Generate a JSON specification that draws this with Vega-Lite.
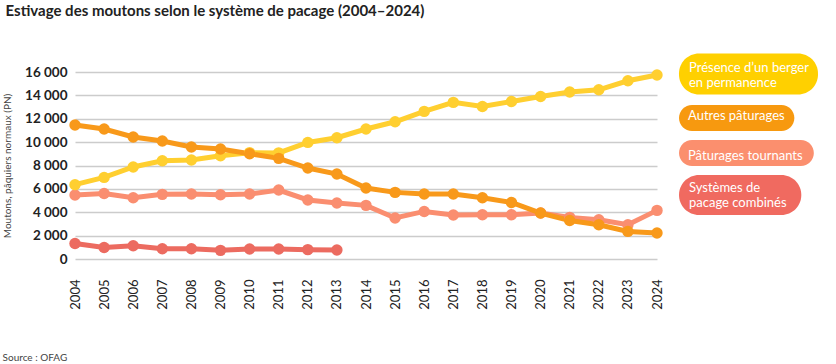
{
  "$schema": "https://vega.github.io/schema/vega-lite/v6.json",
  "padding": {"left": 2, "top": 3, "right": 10, "bottom": 3},
  "background": "white",
  "bounds": "flush",
  "spacing": 22,
  "title": {"text": "Estivage des moutons selon le système de pacage (2004–2024)", "anchor": "start", "font": "Lato", "fontSize": 15, "fontWeight": "bold", "color": "#222222", "offset": 35, "dx": 3},
  "datasets": {
    "main": [
      {"year": "2004", "series": "Systèmes de pacage combinés", "value": 1330},
      {"year": "2005", "series": "Systèmes de pacage combinés", "value": 990},
      {"year": "2006", "series": "Systèmes de pacage combinés", "value": 1140},
      {"year": "2007", "series": "Systèmes de pacage combinés", "value": 880},
      {"year": "2008", "series": "Systèmes de pacage combinés", "value": 880},
      {"year": "2009", "series": "Systèmes de pacage combinés", "value": 740},
      {"year": "2010", "series": "Systèmes de pacage combinés", "value": 850},
      {"year": "2011", "series": "Systèmes de pacage combinés", "value": 850},
      {"year": "2012", "series": "Systèmes de pacage combinés", "value": 800},
      {"year": "2013", "series": "Systèmes de pacage combinés", "value": 770},
      {"year": "2004", "series": "Pâturages tournants", "value": 5470},
      {"year": "2005", "series": "Pâturages tournants", "value": 5610},
      {"year": "2006", "series": "Pâturages tournants", "value": 5240},
      {"year": "2007", "series": "Pâturages tournants", "value": 5530},
      {"year": "2008", "series": "Pâturages tournants", "value": 5560},
      {"year": "2009", "series": "Pâturages tournants", "value": 5500},
      {"year": "2010", "series": "Pâturages tournants", "value": 5560},
      {"year": "2011", "series": "Pâturages tournants", "value": 5900},
      {"year": "2012", "series": "Pâturages tournants", "value": 5050},
      {"year": "2013", "series": "Pâturages tournants", "value": 4790},
      {"year": "2014", "series": "Pâturages tournants", "value": 4590},
      {"year": "2015", "series": "Pâturages tournants", "value": 3510},
      {"year": "2016", "series": "Pâturages tournants", "value": 4070},
      {"year": "2017", "series": "Pâturages tournants", "value": 3760},
      {"year": "2018", "series": "Pâturages tournants", "value": 3790},
      {"year": "2019", "series": "Pâturages tournants", "value": 3790},
      {"year": "2020", "series": "Pâturages tournants", "value": 3930},
      {"year": "2021", "series": "Pâturages tournants", "value": 3560},
      {"year": "2022", "series": "Pâturages tournants", "value": 3360},
      {"year": "2023", "series": "Pâturages tournants", "value": 2930},
      {"year": "2024", "series": "Pâturages tournants", "value": 4160},
      {"year": "2004", "series": "Présence d’un berger en permanence", "value": 6360},
      {"year": "2005", "series": "Présence d’un berger en permanence", "value": 6980},
      {"year": "2006", "series": "Présence d’un berger en permanence", "value": 7870},
      {"year": "2007", "series": "Présence d’un berger en permanence", "value": 8410},
      {"year": "2008", "series": "Présence d’un berger en permanence", "value": 8470},
      {"year": "2009", "series": "Présence d’un berger en permanence", "value": 8840},
      {"year": "2010", "series": "Présence d’un berger en permanence", "value": 9100},
      {"year": "2011", "series": "Présence d’un berger en permanence", "value": 9080},
      {"year": "2012", "series": "Présence d’un berger en permanence", "value": 9975},
      {"year": "2013", "series": "Présence d’un berger en permanence", "value": 10380},
      {"year": "2014", "series": "Présence d’un berger en permanence", "value": 11120},
      {"year": "2015", "series": "Présence d’un berger en permanence", "value": 11740},
      {"year": "2016", "series": "Présence d’un berger en permanence", "value": 12630},
      {"year": "2017", "series": "Présence d’un berger en permanence", "value": 13400},
      {"year": "2018", "series": "Présence d’un berger en permanence", "value": 13050},
      {"year": "2019", "series": "Présence d’un berger en permanence", "value": 13480},
      {"year": "2020", "series": "Présence d’un berger en permanence", "value": 13910},
      {"year": "2021", "series": "Présence d’un berger en permanence", "value": 14290},
      {"year": "2022", "series": "Présence d’un berger en permanence", "value": 14480},
      {"year": "2023", "series": "Présence d’un berger en permanence", "value": 15250},
      {"year": "2024", "series": "Présence d’un berger en permanence", "value": 15740},
      {"year": "2004", "series": "Autres pâturages", "value": 11460},
      {"year": "2005", "series": "Autres pâturages", "value": 11120},
      {"year": "2006", "series": "Autres pâturages", "value": 10440},
      {"year": "2007", "series": "Autres pâturages", "value": 10090},
      {"year": "2008", "series": "Autres pâturages", "value": 9580},
      {"year": "2009", "series": "Autres pâturages", "value": 9410},
      {"year": "2010", "series": "Autres pâturages", "value": 9010},
      {"year": "2011", "series": "Autres pâturages", "value": 8610},
      {"year": "2012", "series": "Autres pâturages", "value": 7780},
      {"year": "2013", "series": "Autres pâturages", "value": 7270},
      {"year": "2014", "series": "Autres pâturages", "value": 6070},
      {"year": "2015", "series": "Autres pâturages", "value": 5700},
      {"year": "2016", "series": "Autres pâturages", "value": 5560},
      {"year": "2017", "series": "Autres pâturages", "value": 5560},
      {"year": "2018", "series": "Autres pâturages", "value": 5240},
      {"year": "2019", "series": "Autres pâturages", "value": 4840},
      {"year": "2020", "series": "Autres pâturages", "value": 3930},
      {"year": "2021", "series": "Autres pâturages", "value": 3300},
      {"year": "2022", "series": "Autres pâturages", "value": 2930},
      {"year": "2023", "series": "Autres pâturages", "value": 2360},
      {"year": "2024", "series": "Autres pâturages", "value": 2220}
    ],
    "legend": [
      {"series": "Présence d’un berger en permanence", "label": "Présence d’un berger\nen permanence"},
      {"series": "Autres pâturages", "label": "Autres pâturages"},
      {"series": "Pâturages tournants", "label": "Pâturages tournants"},
      {"series": "Systèmes de pacage combinés", "label": "Systèmes de\npacage combinés"}
    ]
  },
  "hconcat": [
    {
      "width": 582,
      "height": 187,
      "data": {"name": "main"},
      "title": {"text": "Source : OFAG", "orient": "bottom", "anchor": "start", "font": "Lato", "fontSize": 10, "fontWeight": "normal", "color": "#444444", "offset": 44},
      "encoding": {
        "x": {"field": "year", "type": "ordinal", "scale": {"padding": 0},
              "axis": {"title": null, "labelAngle": -90, "labelAlign": "right", "labelBaseline": "middle", "labelPadding": 20, "domain": false, "ticks": false, "grid": false, "labelFont": "Lato", "labelFontSize": 13, "labelColor": "#222222"}},
        "y": {"field": "value", "type": "quantitative", "scale": {"domain": [0, 16000]},
              "axis": {"title": "Moutons, pâquiers normaux (PN)", "titleFont": "Lato", "titleFontSize": 10, "titleFontWeight": "normal", "titleColor": "#444444", "titlePadding": 12,
                       "values": [0, 2000, 4000, 6000, 8000, 10000, 12000, 14000, 16000],
                       "labelExpr": "replace(format(datum.value, ','), ',', ' ')",
                       "labelFont": "Lato", "labelFontSize": 13.5, "labelFontWeight": "bold", "labelColor": "#222222", "labelPadding": 8,
                       "domain": false, "ticks": false, "grid": true, "gridColor": "#cccccc", "gridWidth": 1.5}},
        "color": {"field": "series", "type": "nominal",
                  "scale": {"domain": ["Présence d’un berger en permanence", "Autres pâturages", "Pâturages tournants", "Systèmes de pacage combinés"],
                            "range": ["#FFCF30", "#F8991A", "#FA8E70", "#EC6B60"]},
                  "legend": null}
      },
      "layer": [
        {"mark": {"type": "line", "strokeWidth": 5}},
        {"mark": {"type": "point", "filled": true, "size": 130, "opacity": 1}}
      ]
    },
    {
      "width": 139,
      "height": 160,
      "data": {"name": "legend"},
      "encoding": {
        "y": {"field": "series", "type": "nominal", "sort": null, "scale": {"type": "point", "padding": 0.5}, "axis": null}
      },
      "layer": [
        {"transform": [{"filter": {"field": "series", "equal": "Présence d’un berger en permanence"}}],
         "mark": {"type": "bar", "height": 41, "cornerRadius": 20, "yOffset": -18, "color": "#FFD000"},
         "encoding": {"x": {"datum": 0, "type": "quantitative", "scale": {"domain": [0, 1]}, "axis": null}, "x2": {"datum": 1}}},
        {"transform": [{"filter": {"field": "series", "equal": "Autres pâturages"}}],
         "mark": {"type": "bar", "height": 26, "cornerRadius": 13, "yOffset": -14, "color": "#F7990F"},
         "encoding": {"x": {"datum": 0, "type": "quantitative"}, "x2": {"datum": 0.83}}},
        {"transform": [{"filter": {"field": "series", "equal": "Pâturages tournants"}}],
         "mark": {"type": "bar", "height": 26, "cornerRadius": 13, "yOffset": -19, "color": "#FB8F6E"},
         "encoding": {"x": {"datum": 0, "type": "quantitative"}, "x2": {"datum": 0.97}}},
        {"transform": [{"filter": {"field": "series", "equal": "Systèmes de pacage combinés"}}],
         "mark": {"type": "bar", "height": 40, "cornerRadius": 20, "yOffset": -17, "color": "#F06A60"},
         "encoding": {"x": {"datum": 0, "type": "quantitative"}, "x2": {"datum": 0.88}}},
        {"transform": [{"filter": {"field": "series", "oneOf": ["Présence d’un berger en permanence", "Systèmes de pacage combinés"]}}],
         "mark": {"type": "text", "align": "left", "baseline": "middle", "dx": 10, "dy": -7.5, "yOffset": -17, "lineBreak": "\n", "lineHeight": 15, "font": "Lato", "fontSize": 13, "color": "white"},
         "encoding": {"x": {"datum": 0, "type": "quantitative"}, "text": {"field": "label"}}},
        {"transform": [{"filter": {"field": "series", "oneOf": ["Autres pâturages", "Pâturages tournants"]}}],
         "mark": {"type": "text", "align": "left", "baseline": "middle", "dx": 9, "yOffset": -16, "font": "Lato", "fontSize": 13, "color": "white"},
         "encoding": {"x": {"datum": 0, "type": "quantitative"}, "text": {"field": "label"}}}
      ]
    }
  ],
  "config": {
    "view": {"stroke": null},
    "font": "Lato"
  }
}
